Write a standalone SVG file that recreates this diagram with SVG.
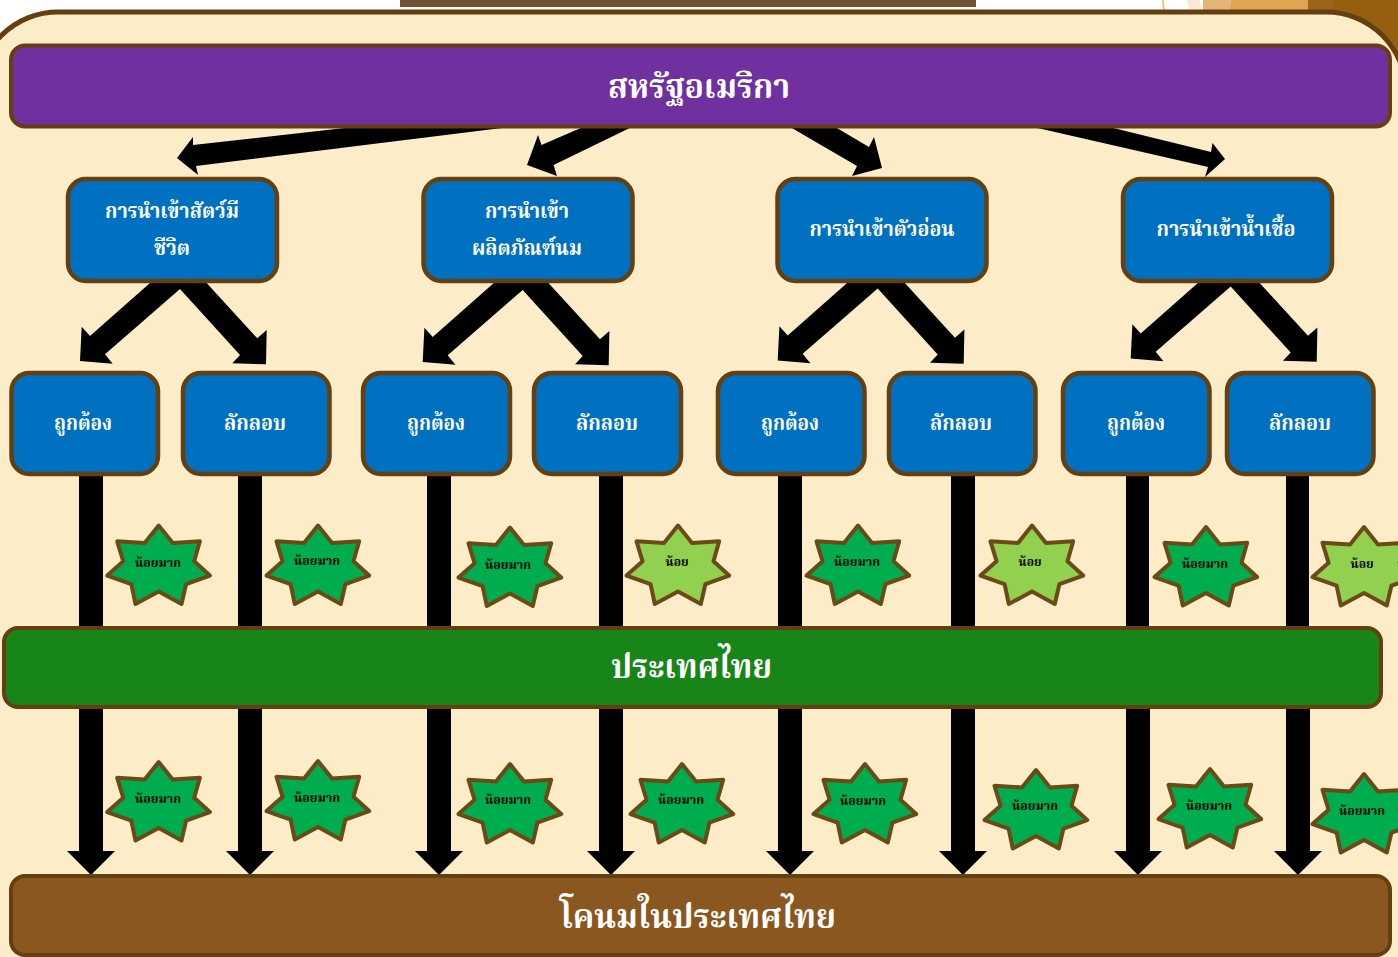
<svg xmlns="http://www.w3.org/2000/svg" xmlns:xlink="http://www.w3.org/1999/xlink" width="1398" height="957" viewBox="0 0 1398 957">
<style>
text{font-family:"Liberation Serif","Noto Serif Thai","Noto Sans Thai","Noto Sans","DejaVu Sans",serif;font-weight:700;text-anchor:middle}
.bar,.node{stroke:#643f10}
.bar{stroke-width:4}
.node{fill:#0070c0;stroke-width:4.5}
.t1{fill:#fff;font-size:34px}
.t2{fill:#fff;font-size:21px}
.t3{fill:#000;font-size:12px}
.star{stroke:#6b4a17;stroke-width:4;stroke-linejoin:round}
.dark{fill:#00ad4e}
.light{fill:#92d050}
</style>
<defs>
<polygon id="starShape" points="0,0 14,17.4 41.2,15.8 35.5,35.8 51.2,50.1 27.4,58.7 22.8,78.5 0,66.1 -23.2,78.5 -27.4,58.7 -51.5,50.1 -35.4,35.8 -41.5,15.8 -14,17.4"/>
<polygon id="fork" points="-25.5,-10 -90,47 -98.3,37.7 -100,72 -67.3,74.7 -75,65.3 0,0 60,66 52.3,74.3 86,75.3 86.7,41 77.3,49.3 23,-10"/>
<polygon id="downArrow" points="-12,708 12,708 12,851 24,851 0,875 -24,851 -12,851"/>
</defs>
<rect width="1398" height="957" fill="#fff"/>
<g id="backdrop">
<rect x="400" y="0" width="576" height="7" fill="#735233"/>
<polygon points="1162,0 1163.5,0 1165,14 1163.5,14" fill="#f0b868"/>
<polygon points="1187,0 1200,0 1203,14 1190,14" fill="#fbe9d8"/>
<polygon points="1203,0 1231,0 1229,14 1203,14" fill="#e2b676"/>
<polygon points="1231,0 1308,0 1308,14 1229,14" fill="#dfa552"/>
<rect x="1308" y="0" width="25" height="30" fill="#9b6418"/>
<rect x="1333" y="0" width="65" height="90" fill="#965f10"/>
<rect x="-22" y="12" width="1428" height="1000" rx="80" fill="#fcecc8" stroke="#643f10" stroke-width="5"/>
</g>
<g id="connectors" fill="#000">
<polygon points="380,124 193,145 193,137 177,158 198,175 196,166 534,124"/>
<polygon points="590,124 541.5,145 538,135 527,165 557,176 553.6,165 638,124"/>
<polygon points="785,124 857,166 852,176 882,168 874,137 869,147 830,124"/>
<polygon points="1020,124 1208,167 1205,177 1225,159 1212.5,143 1211,152 1097,124"/>
<use href="#fork" x="180" y="289"/>
<use href="#fork" x="522.7" y="290"/>
<use href="#fork" x="877.7" y="288.5"/>
<use href="#fork" x="1230.7" y="286.5"/>
<rect x="79" y="474" width="24" height="154"/>
<rect x="238" y="474" width="24" height="154"/>
<rect x="427" y="474" width="24" height="154"/>
<rect x="599" y="474" width="24" height="154"/>
<rect x="778" y="474" width="24" height="154"/>
<rect x="951" y="474" width="24" height="154"/>
<rect x="1126" y="474" width="23" height="154"/>
<rect x="1286" y="474" width="23" height="154"/>
<use href="#downArrow" x="91"/>
<use href="#downArrow" x="250"/>
<use href="#downArrow" x="439"/>
<use href="#downArrow" x="611"/>
<use href="#downArrow" x="790"/>
<use href="#downArrow" x="963"/>
<use href="#downArrow" x="1138"/>
<use href="#downArrow" x="1298"/>
</g>
<g id="node-usa"><rect class="bar" x="11" y="45.5" width="1379" height="81" rx="14" fill="#7030a0"/><text class="t1" x="699" y="98" textLength="182" lengthAdjust="spacingAndGlyphs">สหรัฐอเมริกา</text></g>
<g id="node-a"><rect class="node" x="68" y="179" width="209" height="102" rx="18"/><text class="t2" x="172" y="218" textLength="134" lengthAdjust="spacingAndGlyphs">การนำเข้าสัตว์มี</text><text class="t2" x="172" y="255" textLength="36" lengthAdjust="spacingAndGlyphs">ชีวิต</text></g>
<g id="node-b"><rect class="node" x="423.5" y="179" width="209" height="102" rx="18"/><text class="t2" x="527" y="218" textLength="84" lengthAdjust="spacingAndGlyphs">การนำเข้า</text><text class="t2" x="527" y="255" textLength="110" lengthAdjust="spacingAndGlyphs">ผลิตภัณฑ์นม</text></g>
<g id="node-c"><rect class="node" x="777.5" y="179" width="209" height="102" rx="18"/><text class="t2" x="882" y="236" textLength="145" lengthAdjust="spacingAndGlyphs">การนำเข้าตัวอ่อน</text></g>
<g id="node-d"><rect class="node" x="1123" y="179" width="209" height="102" rx="18"/><text class="t2" x="1226" y="236" textLength="139" lengthAdjust="spacingAndGlyphs">การนำเข้าน้ำเชื้อ</text></g>
<g id="node-a1"><rect class="node" x="11.5" y="373" width="146.500" height="101" rx="18"/><text class="t2" x="83" y="429.5" textLength="58" lengthAdjust="spacingAndGlyphs">ถูกต้อง</text></g>
<g id="node-a2"><rect class="node" x="183" y="373" width="146.500" height="101" rx="18"/><text class="t2" x="255" y="429.5" textLength="62" lengthAdjust="spacingAndGlyphs">ลักลอบ</text></g>
<g id="node-b1"><rect class="node" x="363" y="373" width="147" height="101" rx="18"/><text class="t2" x="436" y="429.5" textLength="58" lengthAdjust="spacingAndGlyphs">ถูกต้อง</text></g>
<g id="node-b2"><rect class="node" x="534" y="373" width="147" height="101" rx="18"/><text class="t2" x="607" y="429.5" textLength="62" lengthAdjust="spacingAndGlyphs">ลักลอบ</text></g>
<g id="node-c1"><rect class="node" x="718" y="373" width="146.500" height="101" rx="18"/><text class="t2" x="790" y="429.5" textLength="58" lengthAdjust="spacingAndGlyphs">ถูกต้อง</text></g>
<g id="node-c2"><rect class="node" x="889" y="373" width="146.500" height="101" rx="18"/><text class="t2" x="961" y="429.5" textLength="62" lengthAdjust="spacingAndGlyphs">ลักลอบ</text></g>
<g id="node-d1"><rect class="node" x="1063" y="373" width="146.500" height="101" rx="18"/><text class="t2" x="1136" y="429.5" textLength="58" lengthAdjust="spacingAndGlyphs">ถูกต้อง</text></g>
<g id="node-d2"><rect class="node" x="1227" y="373" width="146.500" height="101" rx="18"/><text class="t2" x="1300" y="429.5" textLength="62" lengthAdjust="spacingAndGlyphs">ลักลอบ</text></g>
<g id="node-thailand"><rect class="bar" x="4" y="628" width="1377" height="79" rx="14" fill="#178517"/><text class="t1" x="691.5" y="678" textLength="161" lengthAdjust="spacingAndGlyphs">ประเทศไทย</text></g>
<g id="node-dairy"><rect class="bar" x="11" y="876" width="1379" height="79" rx="14" fill="#8b5720"/><text class="t1" x="698" y="928" textLength="276" lengthAdjust="spacingAndGlyphs">โคนมในประเทศไทย</text></g>
<g id="star-1"><use href="#starShape" class="star dark" x="158.7" y="525.5"/><text class="t3" x="158" y="567" textLength="46" lengthAdjust="spacingAndGlyphs">น้อยมาก</text></g>
<g id="star-2"><use href="#starShape" class="star dark" x="318" y="525.5"/><text class="t3" x="317" y="565" textLength="46" lengthAdjust="spacingAndGlyphs">น้อยมาก</text></g>
<g id="star-3"><use href="#starShape" class="star dark" x="510" y="527.500"/><text class="t3" x="508" y="569" textLength="46" lengthAdjust="spacingAndGlyphs">น้อยมาก</text></g>
<g id="star-4"><use href="#starShape" class="star light" x="678" y="525.5"/><text class="t3" x="677" y="566" textLength="23" lengthAdjust="spacingAndGlyphs">น้อย</text></g>
<g id="star-5"><use href="#starShape" class="star dark" x="858" y="525.5"/><text class="t3" x="857" y="566" textLength="46" lengthAdjust="spacingAndGlyphs">น้อยมาก</text></g>
<g id="star-6"><use href="#starShape" class="star light" x="1032" y="525.5"/><text class="t3" x="1030" y="566" textLength="23" lengthAdjust="spacingAndGlyphs">น้อย</text></g>
<g id="star-7"><use href="#starShape" class="star dark" x="1206" y="527"/><text class="t3" x="1205" y="568" textLength="46" lengthAdjust="spacingAndGlyphs">น้อยมาก</text></g>
<g id="star-8"><use href="#starShape" class="star light" x="1364" y="527"/><text class="t3" x="1362" y="568" textLength="23" lengthAdjust="spacingAndGlyphs">น้อย</text></g>
<g id="star-9"><use href="#starShape" class="star dark" x="158.7" y="762"/><text class="t3" x="158" y="803" textLength="46" lengthAdjust="spacingAndGlyphs">น้อยมาก</text></g>
<g id="star-10"><use href="#starShape" class="star dark" x="318" y="761"/><text class="t3" x="317" y="802" textLength="46" lengthAdjust="spacingAndGlyphs">น้อยมาก</text></g>
<g id="star-11"><use href="#starShape" class="star dark" x="510" y="764"/><text class="t3" x="508" y="804" textLength="46" lengthAdjust="spacingAndGlyphs">น้อยมาก</text></g>
<g id="star-12"><use href="#starShape" class="star dark" x="682" y="764"/><text class="t3" x="681" y="804" textLength="46" lengthAdjust="spacingAndGlyphs">น้อยมาก</text></g>
<g id="star-13"><use href="#starShape" class="star dark" x="865" y="764"/><text class="t3" x="863" y="805" textLength="46" lengthAdjust="spacingAndGlyphs">น้อยมาก</text></g>
<g id="star-14"><use href="#starShape" class="star dark" x="1036" y="770"/><text class="t3" x="1035" y="810" textLength="46" lengthAdjust="spacingAndGlyphs">น้อยมาก</text></g>
<g id="star-15"><use href="#starShape" class="star dark" x="1210" y="769"/><text class="t3" x="1209" y="810" textLength="46" lengthAdjust="spacingAndGlyphs">น้อยมาก</text></g>
<g id="star-16"><use href="#starShape" class="star dark" x="1364" y="774"/><text class="t3" x="1362" y="815" textLength="46" lengthAdjust="spacingAndGlyphs">น้อยมาก</text></g>
</svg>
